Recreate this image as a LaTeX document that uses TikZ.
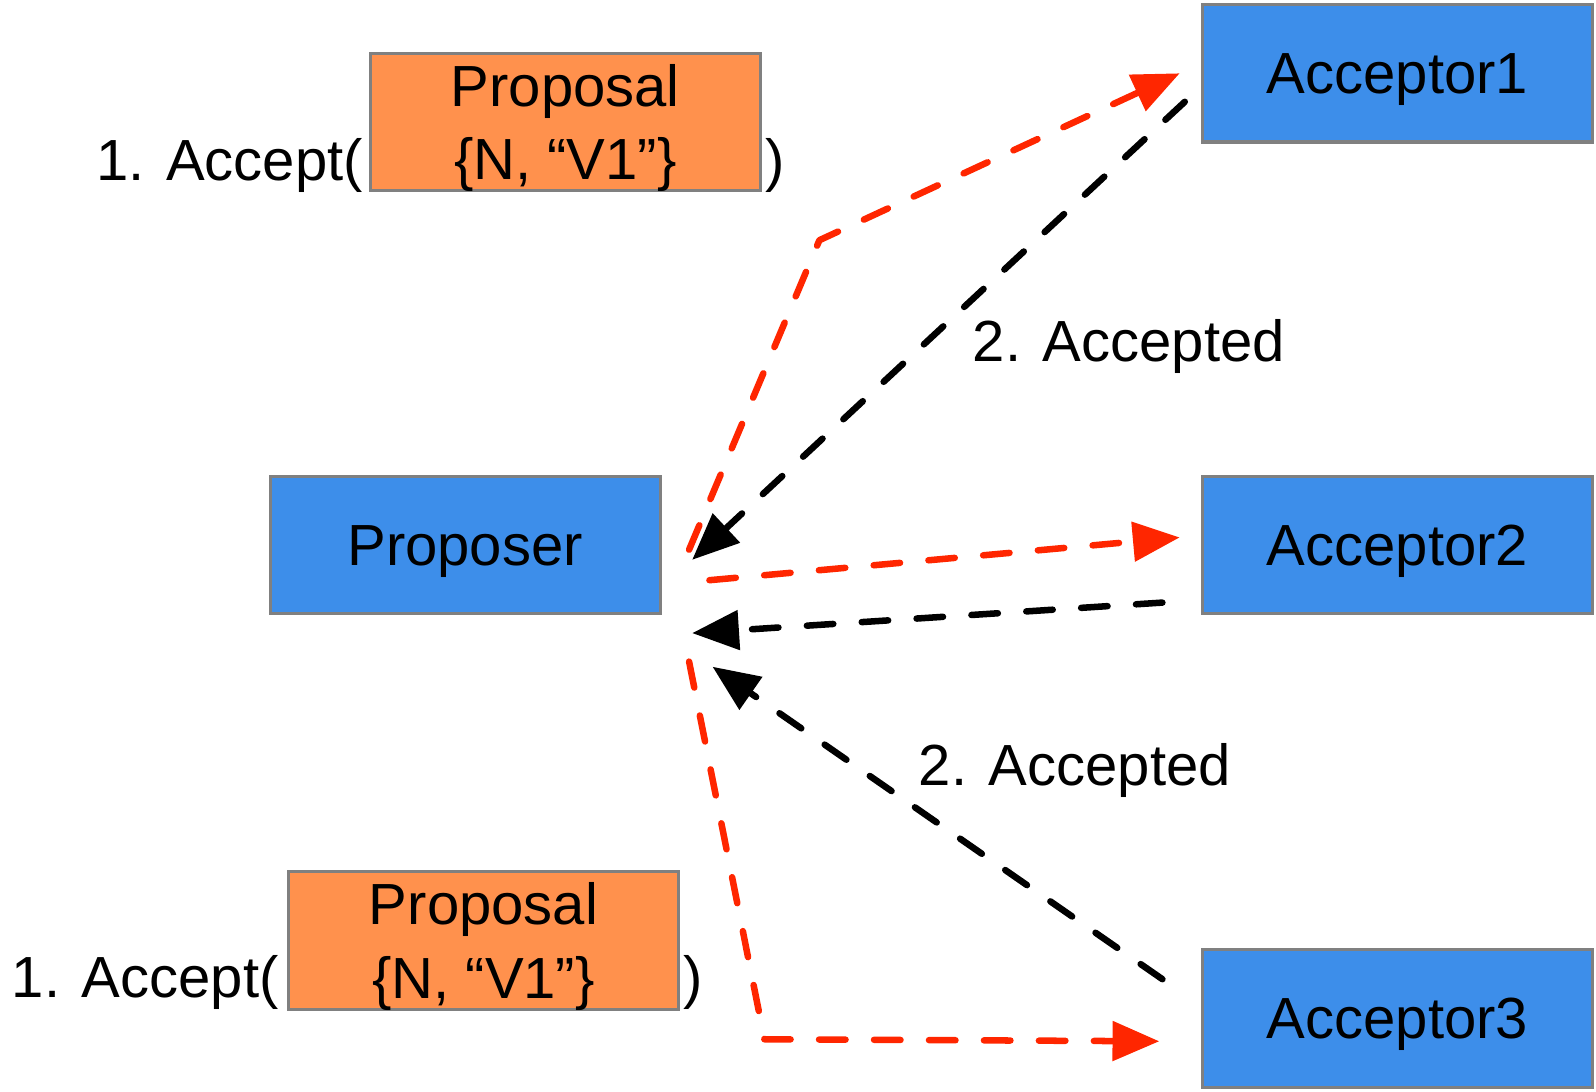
\documentclass[tikz,border=0pt]{standalone}
\usepackage{fontspec}
\setmainfont{Liberation Sans}
\usepackage{tikz}
\usetikzlibrary{arrows.meta}
\definecolor{rolblue}{RGB}{61,142,234}
\definecolor{valorange}{RGB}{255,145,77}
\definecolor{msgred}{RGB}{255,38,0}
\definecolor{edgegray}{RGB}{128,128,128}
\newcommand{\diafont}{\fontsize{28.5pt}{36pt}\selectfont}

\begin{document}
\begin{tikzpicture}[x=0.5pt,y=-0.5pt,
  role/.style={draw=edgegray, line width=1.5pt, fill=rolblue, minimum width=191.5pt, minimum height=67.5pt, inner sep=0pt, text depth=0pt, font=\diafont},
  proposal/.style={draw=edgegray, line width=1.5pt, fill=valorange, minimum width=191.5pt, minimum height=67.5pt, inner sep=0pt, text depth=0pt, align=center, font=\diafont},
  msgtext/.style={inner sep=0pt, font=\diafont},
  accept/.style={draw=msgred, line width=3.2pt, line cap=round, line join=round, dash pattern=on 13pt off 14pt, -{Triangle[length=23pt,width=19pt]}},
  accepted/.style={draw=black, line width=3.2pt, line cap=round, line join=round, dash pattern=on 13pt off 14pt, -{Triangle[length=23pt,width=19pt]}}]
\useasboundingbox (0,0) rectangle (1568,1072);

% Boxes
\node [role] (acc1) at (1373,72) {Acceptor1};
\node [role] (acc2) at (1373,535.5) {Acceptor2};
\node [role] (acc3) at (1373,1000.5) {Acceptor3};
\node [role] (prop) at (457,535.5) {Proposer};
\node [proposal] (val1) at (555.5,120) {Proposal\\\{N, “V1”\}};
\node [proposal] (val2) at (475,924) {Proposal\\\{N, “V1”\}};

% Text Node
\node [msgtext, anchor=base east] (call1) at (357,177) {1. Accept(};
\node [msgtext, anchor=base west] (close1) at (752,177) {)};
% Text Node
\node [msgtext, anchor=base east] (call2) at (274,980) {1. Accept(};
\node [msgtext, anchor=base west] (close2) at (671,980) {)};
% Text Node
\node [msgtext, anchor=base] (ok1) at (1109,355) {2. Accepted};
% Text Node
\node [msgtext, anchor=base] (ok2) at (1056,772) {2. Accepted};

% ends of the connectors
\coordinate (p1) at ([shift={(27,4.5)}]prop.east);
\coordinate (p2) at ([shift={(30,14.5)}]prop.east);
\coordinate (p3) at ([shift={(47,34.5)}]prop.east);
\coordinate (p4) at ([shift={(30,86.5)}]prop.east);
\coordinate (p5) at ([shift={(27,114.5)}]prop.east);
\coordinate (p6) at ([shift={(50,119.5)}]prop.east);
\coordinate (a1in) at ([shift={(-21,0)}]acc1.west);
\coordinate (a1out) at ([shift={(-16,28)}]acc1.west);
\coordinate (a2in) at ([shift={(-21,-7.5)}]acc2.west);
\coordinate (a2out) at ([shift={(-38,56.5)}]acc2.west);
\coordinate (a3in) at ([shift={(-41,22.5)}]acc3.west);
\coordinate (a3out) at ([shift={(-38,-38.5)}]acc3.west);
\coordinate (bend1) at (805,236);
\coordinate (bend3) at (751,1021);

%Straight Lines
\draw [accept] (p1) -- (bend1) -- (a1in);
\draw [accepted] (a1out) -- (p2);

%Straight Lines
\draw [accept] (p3) -- (a2in);
\draw [accepted] (a2out) -- (p4);

%Straight Lines
\draw [accept] (p5) -- (bend3) -- (a3in);
\draw [accepted] (a3out) -- (p6);

\end{tikzpicture}
\end{document}
